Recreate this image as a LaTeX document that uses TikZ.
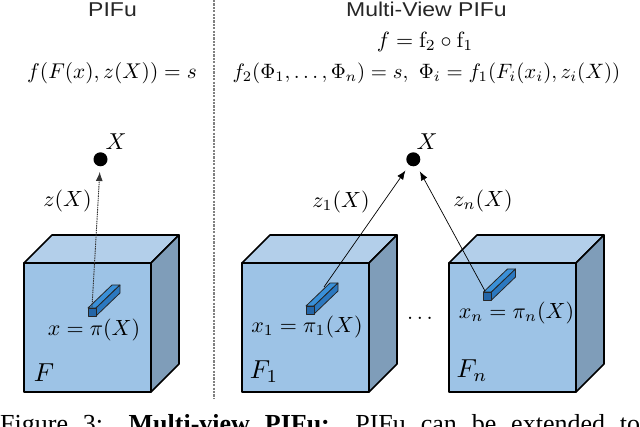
\documentclass[tikz,border=0pt]{standalone}
\usepackage{fontspec}
\newfontfamily\titlefont{Liberation Sans}
\newfontfamily\capfont{Liberation Serif}
\usetikzlibrary{arrows.meta}
\definecolor{frontc}{HTML}{9DC3E6}
\definecolor{topc}{HTML}{B3CFEA}
\definecolor{sidec}{HTML}{7F9DB9}
\definecolor{pfront}{HTML}{2466A8}
\definecolor{ptop}{HTML}{3A90D8}
\definecolor{pside}{HTML}{2B78C0}
\definecolor{divc}{HTML}{808080}
\newcommand{\drawcube}[2]{%
  \filldraw[cubeedge, fill=frontc] ({#1},{#2}) rectangle ({#1+127},{#2+129});
  \filldraw[cubeedge, fill=topc] ({#1},{#2}) -- ({#1+28},{#2-28}) -- ({#1+155},{#2-28}) -- ({#1+127},{#2}) -- cycle;
  \filldraw[cubeedge, fill=sidec] ({#1+127},{#2}) -- ({#1+155},{#2-28}) -- ({#1+155},{#2+101}) -- ({#1+127},{#2+129}) -- cycle;
}
\newcommand{\drawpatch}[2]{%
  \filldraw[patchedge, fill=ptop] ({#1},{#2}) -- ({#1+24},{#2-23}) -- ({#1+32},{#2-23}) -- ({#1+8},{#2}) -- cycle;
  \filldraw[patchedge, fill=pside] ({#1+8},{#2}) -- ({#1+32},{#2-23}) -- ({#1+32},{#2-15}) -- ({#1+8},{#2+8}) -- cycle;
  \filldraw[patchedge, fill=pfront] ({#1},{#2}) rectangle ({#1+8},{#2+8});
}
\tikzset{
  cubeedge/.style={draw=black, line width=1.6pt, line join=round},
  patchedge/.style={draw=black!85, line width=0.8pt, line join=round},
  titletext/.style={inner sep=0pt, font=\titlefont\fontsize{20}{24}\selectfont, text=black!85},
  eq/.style={inner sep=0pt, scale=2.2},
  lab/.style={inner sep=0pt, scale=2.2},
  xlab/.style={inner sep=0pt, scale=2.3},
  flab/.style={inner sep=0pt, scale=2.6},
  ptnode/.style={circle, fill=black, inner sep=0pt, minimum size=14pt},
  tip/.style={-{Latex[length=9pt,width=7pt]}},
  dotline/.style={tip, draw=black!80, line width=0.9pt, dash pattern=on 1.5pt off 0.8pt},
  solidline/.style={tip, draw=black, line width=0.7pt},
  divider/.style={draw=divc, line width=1.6pt, dash pattern=on 2.2pt off 1.2pt}
}
\begin{document}
\begin{tikzpicture}[x=1pt,y=-1pt]
\useasboundingbox (0,0) rectangle (640,427);
\fill[white] (0,0) rectangle (640,427);
% divider
\coordinate (d1) at (214,0);
\coordinate (d2) at (214,399);
\draw[divider] (d1) -- (d2);
% titles
\node[titletext] (t1) at (112.5,9.5) {\scalebox{1.15}[1]{PIFu}};
\node[titletext] (t2) at (426.5,9.5) {\scalebox{1.15}[1]{Multi-View PIFu}};
% equations
\node[eq, scale=0.97] (e1) at (112,73) {$f(F(x),z(X)) = s$};
\node[eq] (e2) at (425,42) {$f = \mathrm{f}_2\circ\mathrm{f}_1$};
\node[eq, scale=0.945] (e3) at (426.5,73) {$f_2(\Phi_1,\ldots,\Phi_n) = s,\ \Phi_i = f_1(F_i(x_i),z_i(X))$};
% cubes
\drawcube{24}{263}
\drawcube{242}{263}
\drawcube{449}{263}
% patches
\drawpatch{88}{308}
\drawpatch{306}{306}
\drawpatch{483.5}{292}
\coordinate (p1) at (92,307);
\coordinate (p2) at (324,287);
\coordinate (p3) at (485,291);
% points
\node[ptnode] (X1) at (100.5,159.3) {};
\node[ptnode] (X2) at (413.3,159.3) {};
\node[xlab] (X1l) at (116,142) {$X$};
\node[xlab] (X2l) at (427,142) {$X$};
% arrows
\draw[dotline, shorten >=5.5pt] (p1) -- (X1);
\draw[solidline, shorten >=6.5pt] (p2) -- (X2);
\draw[solidline, shorten >=6.5pt] (p3) -- (X2);
% labels
\node[lab] (z1) at (67.5,201) {$z(X)$};
\node[lab] (z2) at (341,202) {$z_1(X)$};
\node[lab] (z3) at (483,201) {$z_n(X)$};
\node[lab] (x1) at (94,330) {$x = \pi(X)$};
\node[lab] (x2) at (307,327) {$x_1 = \pi_1(X)$};
\node[lab] (x3) at (516.5,313) {$x_n = \pi_n(X)$};
\node[flab] (F1) at (44,373) {$F$};
\node[flab] (F2) at (264,372) {$F_1$};
\node[flab] (F3) at (472,371) {$F_n$};
\node[lab] (dots) at (420,318) {$\ldots$};
% caption
\node[anchor=base west, inner sep=0pt] (cap) at (0,433) {\capfont\fontsize{26}{30}\selectfont\makebox[640pt][s]{Figure 3: \textbf{Multi-view PIFu:} PIFu can be extended to}};
\end{tikzpicture}
\end{document}
